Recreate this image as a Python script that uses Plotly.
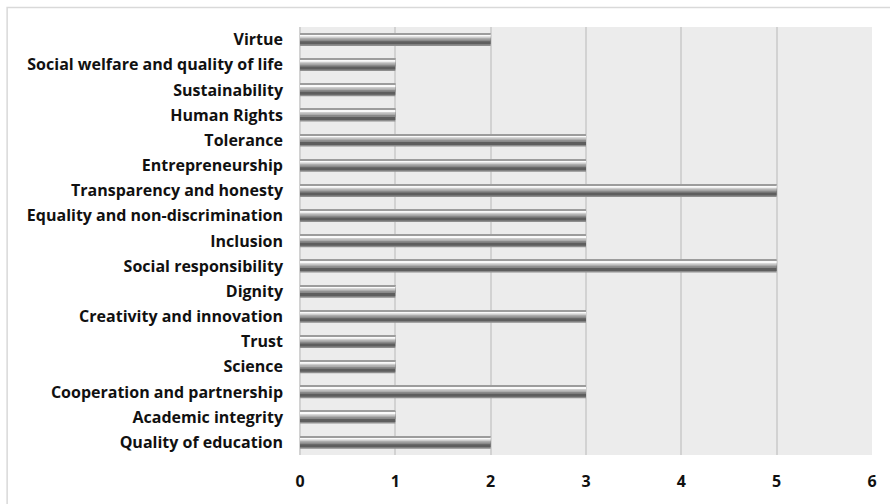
import plotly.graph_objects as go

# Values, listed bottom-to-top as they appear on the chart
categories = [
    "Quality of education",
    "Academic integrity",
    "Cooperation and partnership",
    "Science",
    "Trust",
    "Creativity and innovation",
    "Dignity",
    "Social responsibility",
    "Inclusion",
    "Equality and non-discrimination",
    "Transparency and honesty",
    "Entrepreneurship",
    "Tolerance",
    "Human Rights",
    "Sustainability",
    "Social welfare and quality of life",
    "Virtue",
]
counts = [2, 1, 3, 1, 1, 3, 1, 5, 3, 3, 5, 3, 3, 1, 1, 1, 2]
x_ticks = [0, 1, 2, 3, 4, 5, 6]

FONT = "Open Sans"

fig = go.Figure()

# Stacked bands give each bar a rounded, cylinder-like shading
# (offset, width) in category units; bar spans -0.25 .. 0.25
bands = [
    (-0.25, 0.50, "#8e8e8e"),
    (-0.19, 0.44, "#5e5e5e"),
    (-0.07, 0.32, "#8a8a8a"),
    (0.00, 0.25, "#adadad"),
    (0.06, 0.19, "#cdcdcd"),
    (0.12, 0.09, "#fafafa"),
    (0.21, 0.04, "#9c9c9c"),
]
for off, w, col in bands:
    fig.add_trace(go.Bar(
        x=counts, y=categories, orientation="h",
        offset=off, width=w,
        marker=dict(color=col, line=dict(width=0)),
        hoverinfo="x+y", showlegend=False,
    ))

fig.update_layout(
    width=890, height=504,
    margin=dict(l=300, r=18, t=27, b=40),
    paper_bgcolor="white",
    plot_bgcolor="#ececec",
    barmode="overlay",
    font=dict(family=FONT, size=16, color="#111111"),
    xaxis=dict(
        range=[0, 6], tickvals=x_ticks,
        showgrid=True, gridcolor="#d2d2d2", gridwidth=1.5,
        zeroline=True, zerolinecolor="#d2d2d2", zerolinewidth=1.5,
        ticks="", ticklabelstandoff=15,
        tickfont=dict(family=FONT, size=16, color="#111111", weight="bold"),
        fixedrange=True,
    ),
    yaxis=dict(
        type="category", categoryorder="array", categoryarray=categories,
        range=[-0.5, len(categories) - 0.5],
        showgrid=False, ticks="", ticklabelstandoff=16,
        tickfont=dict(family=FONT, size=16, color="#111111", weight="bold"),
        fixedrange=True,
    ),
    shapes=[dict(
        type="rect", xref="paper", yref="paper",
        x0=-0.512, x1=1.05, y0=-0.2, y1=1.0458,
        line=dict(color="#d9d9d9", width=1.5), fillcolor="rgba(0,0,0,0)",
        layer="below",
    )],
)

fig.write_html("out.html")
